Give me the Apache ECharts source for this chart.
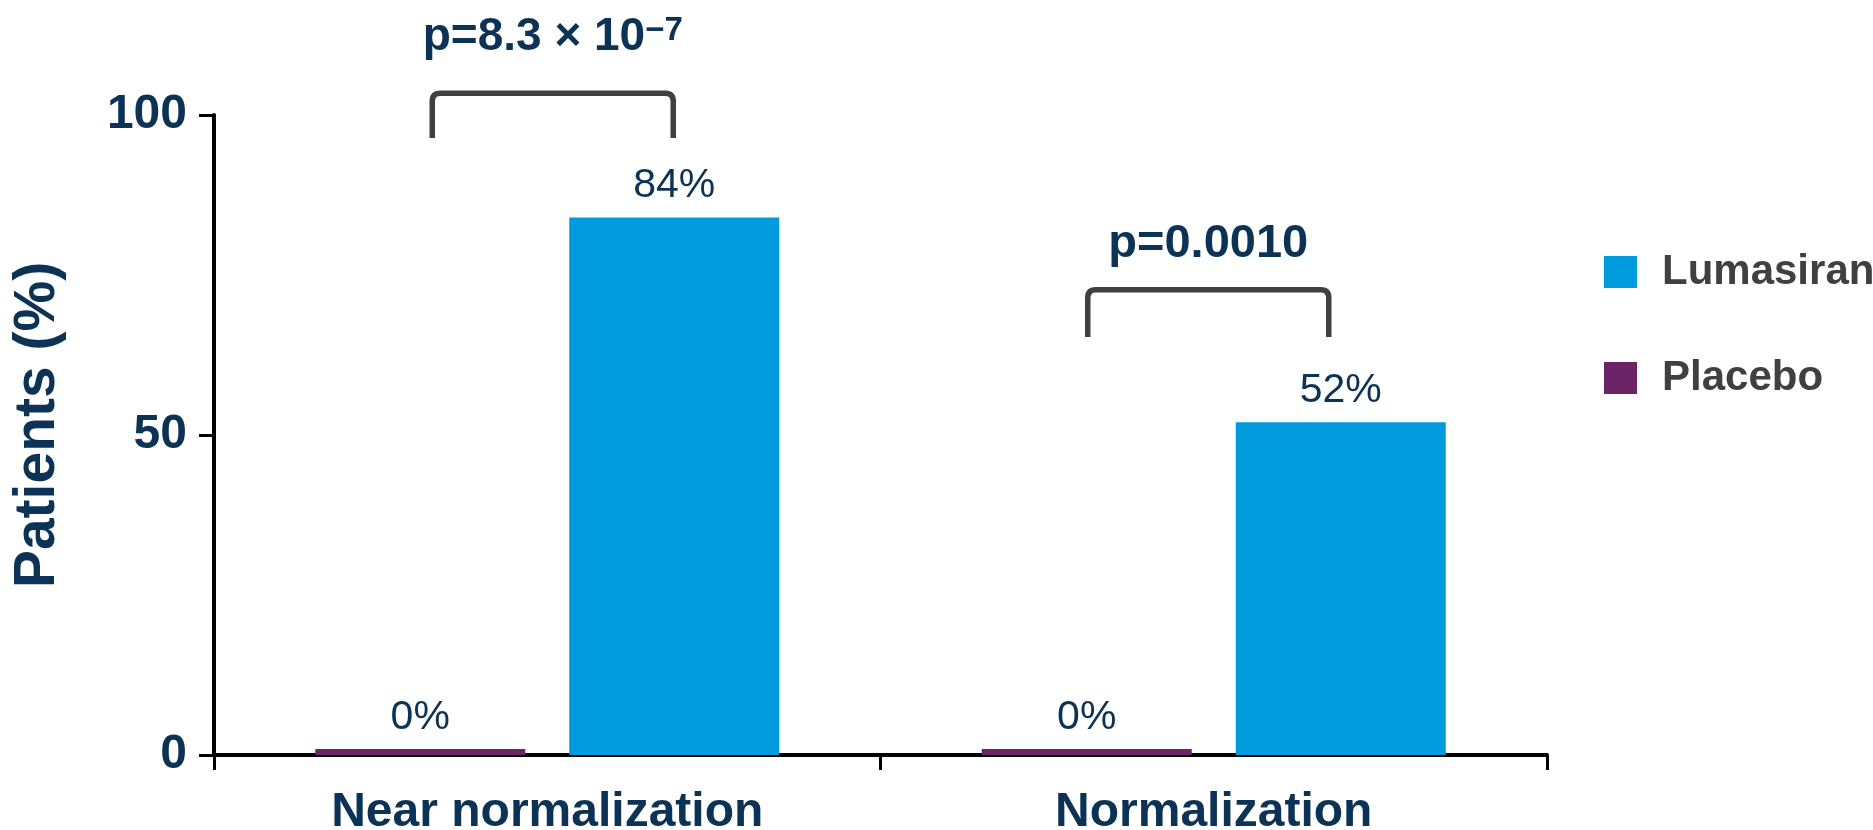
<!DOCTYPE html>
<html>
<head>
<meta charset="utf-8">
<title>Patients reaching near normalization and normalization</title>
<script src="https://cdn.jsdelivr.net/npm/echarts@6/dist/echarts.min.js"></script>
<style>
  html, body { margin: 0; padding: 0; background: #ffffff; }
  #chart { width: 1873px; height: 830px; }
</style>
</head>
<body>
<div id="chart"></div>
<script>
// Outcome categories and percentage of patients per arm
const categories = ['Near normalization', 'Normalization'];
const lumasiran = [84, 52];
const placebo = [0, 0];

// Value axis range and step
const yMin = 0;
const yMax = 100;
const yStep = 50;

// Significance brackets: category index, low end and high end of each bracket (axis units)
const bracketCategory = [0, 1];
const bracketLow = [96.4, 65.3];
const bracketHigh = [103.4, 72.7];
// p-value text: mantissa part and exponent part
const pMain = ['p=8.3 × 10', 'p=0.0010'];
const pExp = ['−7', ''];

const FONT = '"Liberation Sans", Arial, Helvetica, sans-serif';
const NAVY = '#0c3356';
const BAR_W = 210;
const BAR_GAP = 44;
// bracket styling per annotation
const P_FONT = [46, 47];
const P_GAP = [33, 22];
const BRACKET_SHIFT = [6, -5];

const chart = echarts.init(document.getElementById('chart'), null, { renderer: 'canvas' });

const bracketData = bracketCategory.map((c, i) => [c, bracketLow[i], bracketHigh[i], i]);

function renderBracket(params, api) {
  const ci = api.value(0);
  const idx = api.value(3);
  const cx = api.coord([ci, 0])[0] + BRACKET_SHIFT[idx];
  const yLow = api.coord([ci, api.value(1)])[1];
  const yHigh = api.coord([ci, api.value(2)])[1];
  const half = (BAR_W + BAR_GAP) / 2;
  const x1 = cx - half + 6;
  const x2 = cx + half - 7;
  const r = 8;
  const path = 'M' + x1 + ' ' + yLow +
    ' L' + x1 + ' ' + (yHigh + r) +
    ' Q' + x1 + ' ' + yHigh + ' ' + (x1 + r) + ' ' + yHigh +
    ' L' + (x2 - r) + ' ' + yHigh +
    ' Q' + x2 + ' ' + yHigh + ' ' + x2 + ' ' + (yHigh + r) +
    ' L' + x2 + ' ' + yLow;
  const fs = P_FONT[idx];
  const text = '{m|' + pMain[idx] + '}' + (pExp[idx] ? '{s|' + pExp[idx] + '}' : '');
  return {
    type: 'group',
    children: [
      {
        type: 'path',
        shape: { pathData: path },
        style: { fill: null, stroke: '#404040', lineWidth: 5.5, lineJoin: 'round' }
      },
      {
        type: 'text',
        x: (x1 + x2) / 2,
        y: yHigh - P_GAP[idx],
        style: {
          text: text,
          align: 'center',
          verticalAlign: 'bottom',
          rich: {
            m: { fontSize: fs, fontWeight: 'bold', fontFamily: FONT, fill: NAVY, lineHeight: fs },
            s: { fontSize: 33, fontWeight: 'bold', fontFamily: FONT, fill: NAVY, verticalAlign: 'top', lineHeight: 33, padding: [0, 0, 16, 0] }
          }
        }
      }
    ]
  };
}

const valueLabel = {
  show: true,
  position: 'top',
  distance: 11,
  formatter: '{c}%',
  fontSize: 41,
  fontFamily: FONT,
  color: NAVY
};

chart.setOption({
  animation: false,
  backgroundColor: '#ffffff',
  textStyle: { fontFamily: FONT },
  grid: { left: 214, right: 326, top: 115, bottom: 75, containLabel: false, outerBoundsMode: 'none' },
  legend: {
    data: ['Lumasiran', 'Placebo'],
    orient: 'vertical',
    left: 1599,
    top: 246,
    icon: 'rect',
    itemWidth: 33,
    itemHeight: 32,
    itemGap: 64,
    selectedMode: false,
    textStyle: { fontSize: 42, fontWeight: 'bold', color: '#404040', fontFamily: FONT, padding: [0, 0, 0, 20] }
  },
  xAxis: {
    type: 'category',
    data: categories,
    axisLine: { show: true, lineStyle: { color: '#000', width: 4 } },
    axisTick: { show: true, length: 15, lineStyle: { color: '#000', width: 3 } },
    axisLabel: { fontSize: 48, fontWeight: 'bold', color: NAVY, fontFamily: FONT, margin: 34 },
    splitLine: { show: false }
  },
  yAxis: {
    type: 'value',
    min: yMin,
    max: yMax,
    interval: yStep,
    name: 'Patients (%)',
    nameLocation: 'middle',
    nameRotate: 90,
    nameGap: 147,
    nameTextStyle: { fontSize: 57, fontWeight: 'bold', color: NAVY, fontFamily: FONT, padding: [0, 0, 0, 20] },
    axisLine: { show: true, lineStyle: { color: '#000', width: 4 } },
    axisTick: { show: true, length: 15, lineStyle: { color: '#000', width: 3 } },
    axisLabel: { fontSize: 48, fontWeight: 'bold', color: NAVY, fontFamily: FONT, margin: 27 },
    splitLine: { show: false }
  },
  series: [
    {
      name: 'Placebo',
      type: 'bar',
      data: placebo,
      barWidth: BAR_W,
      barGap: (BAR_GAP / BAR_W * 100) + '%',
      barMinHeight: 6,
      itemStyle: { color: '#6B2466' },
      label: valueLabel
    },
    {
      name: 'Lumasiran',
      type: 'bar',
      data: lumasiran,
      barWidth: BAR_W,
      barGap: (BAR_GAP / BAR_W * 100) + '%',
      itemStyle: { color: '#009ADE' },
      label: valueLabel
    },
    {
      name: 'brackets',
      type: 'custom',
      data: bracketData,
      encode: { x: 0, y: [1, 2] },
      renderItem: renderBracket,
      clip: false,
      silent: true,
      z: 5
    }
  ]
});
</script>
</body>
</html>
